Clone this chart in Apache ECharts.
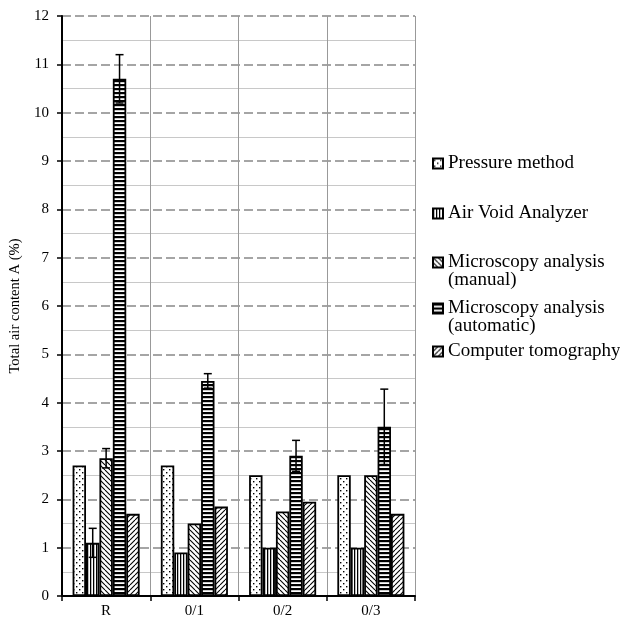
<!DOCTYPE html>
<html><head><meta charset="utf-8">
<script src="https://cdn.jsdelivr.net/npm/echarts@6/dist/echarts.min.js"></script>
<style>html,body{margin:0;padding:0;background:#fff}#c{width:620px;height:621px}</style>
</head><body><div id="c"></div>
<script>
const categories = ['R', '0/1', '0/2', '0/3'];
const seriesNames = ['Pressure method', 'Air Void Analyzer', 'Microscopy analysis\n(manual)', 'Microscopy analysis\n(automatic)', 'Computer tomography'];
const pressure = [2.7, 2.7, 2.5, 2.5];
const airVoid = [1.1, 0.9, 1.0, 1.0];
const manual = [2.85, 1.5, 1.75, 2.5];
const automatic = [10.7, 4.45, 2.9, 3.5];
const tomography = [1.7, 1.85, 1.95, 1.7];
// error (+/-) per category; null = no error bar
const errAirVoid = [0.3, null, null, null];
const errManual = [0.2, null, null, null];
const errAutomatic = [0.5, 0.15, 0.32, 0.78];
const yTicks = [0, 12, 1];

const FONT = '"Liberation Serif", "DejaVu Serif", serif';
const GAP = 0.24;

function makePattern(kind) {
  const s = kind === 'dots' ? 6 : kind === 'vert' ? 3 : kind === 'horiz' ? 4 : 5;
  const c = document.createElement('canvas');
  c.width = s; c.height = s;
  const g = c.getContext('2d');
  g.fillStyle = '#fff'; g.fillRect(0, 0, s, s);
  g.fillStyle = '#000'; g.strokeStyle = '#000';
  if (kind === 'dots') {
    g.fillRect(1, 1, 1.4, 1.4); g.fillRect(4, 4, 1.4, 1.4);
  } else if (kind === 'vert') {
    g.fillRect(0, 0, 1, s);
    g.fillStyle = '#bbb'; g.fillRect(1, 0, 1, s);
  } else if (kind === 'horiz') {
    g.fillRect(0, 0, s, 2);
    g.fillStyle = '#ccc'; g.fillRect(0, 2, s, 1);
  } else if (kind === 'back') {
    g.lineWidth = 1.1;
    for (const o of [-s, 0, s]) { g.beginPath(); g.moveTo(o, 0); g.lineTo(o + s, s); g.stroke(); }
  } else if (kind === 'fwd') {
    g.lineWidth = 1.1;
    for (const o of [-s, 0, s]) { g.beginPath(); g.moveTo(o, s); g.lineTo(o + s, 0); g.stroke(); }
  }
  return { image: c, repeat: 'repeat' };
}
const patterns = [makePattern('dots'), makePattern('vert'), makePattern('back'), makePattern('horiz'), makePattern('fwd')];
const values = [pressure, airVoid, manual, automatic, tomography];
const errors = [null, errAirVoid, errManual, errAutomatic, null];

const series = values.map((v, i) => ({
  name: seriesNames[i], type: 'bar', data: v,
  barGap: '0%', barCategoryGap: (GAP * 100) + '%',
  itemStyle: { color: patterns[i], borderColor: '#000', borderWidth: 1.8 },
  emphasis: { disabled: true }, animation: false
}));

const errData = [];
errors.forEach((e, si) => { if (e) e.forEach((d, ci) => { if (d != null) errData.push([ci, si, values[si][ci], d]); }); });

series.push({
  type: 'custom', data: errData, animation: false, z: 10,
  encode: { x: 0, y: 2 },
  renderItem(params, api) {
    const ci = api.value(0), si = api.value(1), v = api.value(2), e = api.value(3);
    const band = api.size([1, 0])[0];
    const bw = band * (1 - GAP) / 5;
    const cx = api.coord([ci, 0])[0] + (si - 2) * bw;
    const yT = api.coord([ci, v + e])[1], yB = api.coord([ci, v - e])[1];
    const cap = 4, st = { stroke: '#000', lineWidth: 1.5 };
    return { type: 'group', children: [
      { type: 'line', shape: { x1: cx, y1: yT, x2: cx, y2: yB }, style: st },
      { type: 'line', shape: { x1: cx - cap, y1: yT, x2: cx + cap, y2: yT }, style: st },
      { type: 'line', shape: { x1: cx - cap, y1: yB, x2: cx + cap, y2: yB }, style: st }
    ]};
  }
});

const LH = 18;
const legendTops = [154, 204, 235, 281, 342];
const legends = seriesNames.map((n, i) => ({
  data: [n], left: 432, top: legendTops[i], orient: 'vertical', padding: 0,
  icon: 'rect', itemWidth: 10, itemHeight: 10, itemGap: 0, selectedMode: false,
  itemStyle: { borderColor: '#000', borderWidth: 2 },
  formatter: name => (name.includes('\n') ? '\n' + name : name),
  textStyle: { fontFamily: FONT, fontSize: 19, color: '#000', lineHeight: LH }
}));

const chart = echarts.init(document.getElementById('c'), null, { renderer: 'canvas' });
chart.setOption({
  animation: false,
  backgroundColor: '#fff',
  grid: { left: 62, right: 205, top: 16, bottom: 25, containLabel: false },
  legend: legends,
  xAxis: {
    type: 'category', data: categories,
    axisLine: { lineStyle: { color: '#000', width: 2 } },
    axisTick: { show: true, length: 5, lineStyle: { color: '#000', width: 1.5 } },
    axisLabel: { fontFamily: FONT, fontSize: 15, color: '#000', margin: 8 },
    splitLine: { show: true, lineStyle: { color: '#999', width: 1 } }
  },
  yAxis: {
    type: 'value', min: yTicks[0], max: yTicks[1], interval: yTicks[2],
    name: 'Total air content A (%)', nameLocation: 'middle', nameGap: 33, nameRotate: 90,
    nameTextStyle: { fontFamily: FONT, fontSize: 14.6, color: '#000' },
    axisLine: { show: true, lineStyle: { color: '#000', width: 2 } },
    axisTick: { show: true, length: 5, lineStyle: { color: '#000', width: 1.5 } },
    axisLabel: { fontFamily: FONT, fontSize: 15, color: '#000', margin: 13 },
    splitLine: { show: true, lineStyle: { color: '#888', width: 1.5, type: [9, 4] } },
    minorTick: { show: false, splitNumber: 2 },
    minorSplitLine: { show: true, lineStyle: { color: '#c8c8c8', width: 1 } }
  },
  series
});
</script></body></html>
